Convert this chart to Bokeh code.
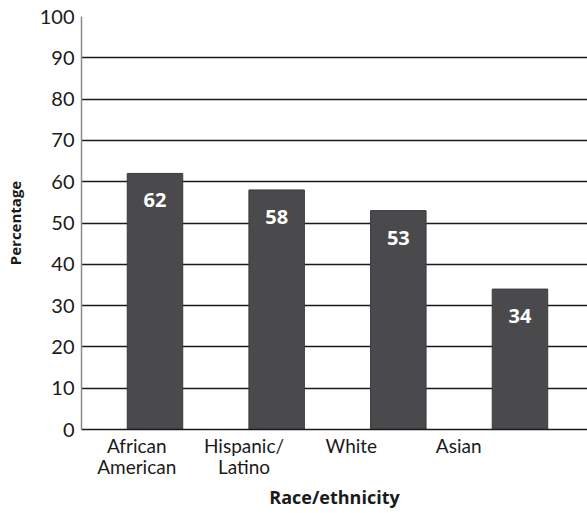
from bokeh.plotting import figure
from bokeh.models import Range1d, FixedTicker, ColumnDataSource, LabelSet, LinearAxis
from bokeh.core.properties import value
from bokeh.embed import file_html
from bokeh.resources import INLINE

# Share of respondents by race/ethnicity
categories = ["African\nAmerican", "Hispanic/\nLatino", "White", "Asian"]
values = [62, 58, 53, 34]
value_labels = ["62", "58", "53", "34"]
y_ticks = [0, 10, 20, 30, 40, 50, 60, 70, 80, 90, 100]

BAR_COLOR = "#4a4a4c"
INK = "#1a1a1a"
TICK_FONT = "Lato"
BOLD_FONT = "Open Sans"

# bar slots sit at index + 0.5; category captions follow their own spacing
x_pos = [i + 0.5 for i in range(len(categories))]
LABEL_START, LABEL_STEP = 0.35, 0.882
label_ticks = [round(LABEL_START + LABEL_STEP * i, 3) for i in range(len(categories))]

# captions are split into a first and second line, each drawn by its own axis
first_lines = [c.split("\n")[0] for c in categories]
second_lines = [c.split("\n")[1] if "\n" in c else "" for c in categories]

source = ColumnDataSource(data=dict(x=x_pos, top=values, text=value_labels))

p = figure(
    width=587, height=513,
    x_range=Range1d(-0.104, 4.055),
    y_range=Range1d(0, 100),
    output_backend="svg", toolbar_location=None,
    x_axis_location=None,
    min_border_left=81, min_border_right=0,
    min_border_top=16, min_border_bottom=84,
)
p.outline_line_color = None
p.background_fill_color = "white"
p.border_fill_color = "white"

p.vbar(x="x", top="top", width=0.456, source=source,
       fill_color=BAR_COLOR, line_color="#3a3a3c", line_width=1)

p.add_layout(LabelSet(x="x", y="top", text="text", source=source,
                      y_offset=-27, text_align="center", text_baseline="middle",
                      text_color="white", text_font=value(BOLD_FONT),
                      text_font_style="bold", text_font_size="20px"))

# grid
p.xgrid.grid_line_color = None
p.ygrid.ticker = FixedTicker(ticks=y_ticks)
p.ygrid.grid_line_color = INK
p.ygrid.grid_line_width = 1.5

# y axis
ya = p.yaxis[0]
ya.ticker = FixedTicker(ticks=y_ticks)
ya.axis_label = "Percentage"
ya.axis_label_text_font = BOLD_FONT
ya.axis_label_text_font_style = "bold"
ya.axis_label_text_font_size = "15px"
ya.axis_label_text_color = INK
ya.axis_label_standoff = 12
ya.major_label_text_font = TICK_FONT
ya.major_label_text_font_size = "20px"
ya.major_label_text_color = INK
ya.major_label_standoff = 7
ya.major_tick_in = 0
ya.major_tick_out = 0
ya.minor_tick_in = 0
ya.minor_tick_out = 0
ya.axis_line_color = "#8a8a8a"
ya.axis_line_width = 1.5


def caption_axis(lines, standoff, line_color):
    ax = LinearAxis(ticker=FixedTicker(ticks=label_ticks))
    ax.major_label_overrides = {t: s for t, s in zip(label_ticks, lines)}
    ax.major_label_text_font = TICK_FONT
    ax.major_label_text_font_size = "19px"
    ax.major_label_text_color = INK
    ax.major_label_standoff = standoff
    ax.major_tick_in = 0
    ax.major_tick_out = 0
    ax.minor_tick_in = 0
    ax.minor_tick_out = 0
    ax.axis_line_color = line_color
    ax.axis_line_width = 1.5
    return ax


xa = caption_axis(first_lines, 4, INK)
xb = caption_axis(second_lines, -5, None)
xb.axis_label = "Race/ethnicity"
xb.axis_label_text_font = BOLD_FONT
xb.axis_label_text_font_style = "bold"
xb.axis_label_text_font_size = "18px"
xb.axis_label_text_color = INK
xb.axis_label_standoff = 4
p.add_layout(xa, "below")
p.add_layout(xb, "below")

open("out.html", "w").write(file_html(p, INLINE))
